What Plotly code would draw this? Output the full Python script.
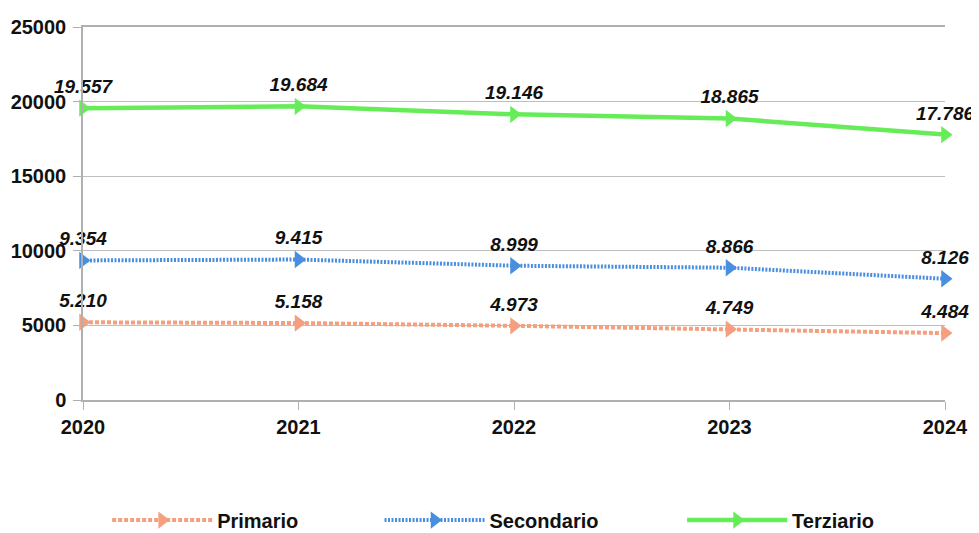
import plotly.graph_objects as go

years = ["2020", "2021", "2022", "2023", "2024"]
primario = [5210, 5158, 4973, 4749, 4484]
secondario = [9354, 9415, 8999, 8866, 8126]
terziario = [19557, 19684, 19146, 18865, 17786]
y_ticks = [0, 5000, 10000, 15000, 20000, 25000]

def fmt(v):
    return f"{v:,}".replace(",", ".")

series = [
    ("Primario", primario, "#F4A080", "4px,2px", 4, "legend", 0.028),
    ("Secondario", secondario, "#4A8EDF", "2px,1.5px", 4, "legend2", 0.344),
    ("Terziario", terziario, "#66EC58", "solid", 4.5, "legend3", 0.695),
]

fig = go.Figure()
legend_layout = {}
for name, vals, color, dash, lw, leg, lx in series:
    fig.add_trace(go.Scatter(
        x=years, y=vals, name=name, mode="lines+markers+text",
        line=dict(color=color, width=lw, dash=dash),
        marker=dict(symbol="triangle-right", size=15, color=color),
        text=[fmt(v) for v in vals], textposition="top center",
        textfont=dict(family="Liberation Sans", size=19, color="#111111",
                      weight="bold", style="italic"),
        cliponaxis=False, legend=leg,
    ))
    legend_layout[leg] = dict(
        orientation="h", x=lx, xanchor="left", y=-0.322, yanchor="middle",
        font=dict(family="Liberation Sans", size=20, weight="bold", color="#111111"),
        itemwidth=100, bgcolor="rgba(0,0,0,0)",
    )

fig.update_layout(
    width=971, height=525,
    margin=dict(l=75, r=34, t=19, b=133, autoexpand=False),
    paper_bgcolor="white", plot_bgcolor="white",
    font=dict(family="Liberation Sans", size=17, color="#111111"),
    showlegend=True,
    **legend_layout,
)
fig.update_xaxes(
    type="category", range=[0, 4], showgrid=False,
    showline=True, linecolor="#B0B0B0", linewidth=1.5, mirror=True,
    ticks="outside", ticklen=8, tickcolor="#B0B0B0",
    tickfont=dict(family="Liberation Sans", size=20, weight="bold"),
)
fig.update_yaxes(
    range=[0, 25000], tickvals=y_ticks, ticktext=[str(v) for v in y_ticks],
    showgrid=True, gridcolor="#BEBEBE", gridwidth=1.2,
    showline=True, linecolor="#B0B0B0", linewidth=1.5,
    ticks="outside", ticklen=8, tickcolor="#B0B0B0", zeroline=False,
    ticklabelstandoff=3,
    tickfont=dict(family="Liberation Sans", size=20, weight="bold"),
)
fig.write_html("out.html")
